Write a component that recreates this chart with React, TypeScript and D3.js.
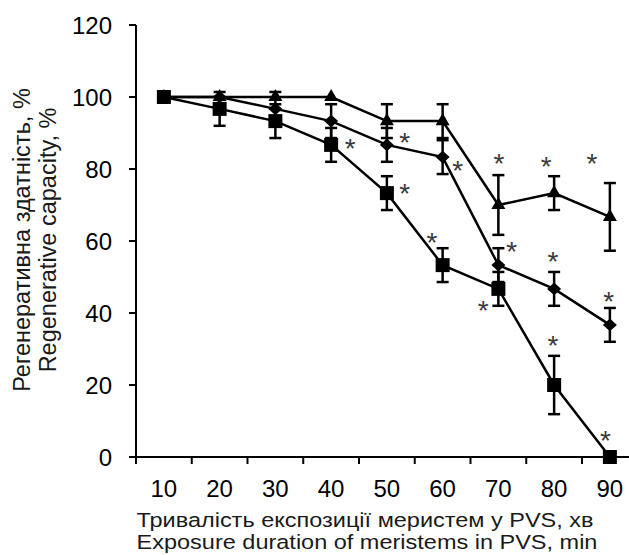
import React from "react";
import * as d3 from "d3";

const categories = [10, 20, 30, 40, 50, 60, 70, 80, 90];
const triangleValues = [100, 100, 100, 100, 93.3, 93.3, 70, 73.3, 66.7];
const triangleErrors = [0, 0, 0, 0, 4.7, 4.7, 8.3, 4.7, 9.4];
const diamondValues = [100, 100, 96.7, 93.3, 86.7, 83.3, 53.3, 46.7, 36.7];
const diamondErrors = [0, 0, 4.7, 4.7, 4.7, 4.7, 4.7, 4.7, 4.7];
const squareValues = [100, 96.7, 93.3, 86.7, 73.3, 53.3, 46.7, 20, 0];
const squareErrors = [0, 4.7, 4.7, 4.7, 4.7, 4.7, 4.7, 8.1, 0];
const yTicks = [0, 20, 40, 60, 80, 100, 120];
// significance marks, positioned in data units (minutes, %)
const asteriskMinutes = [43.4, 53.2, 53.2, 62.7, 70.1, 78.6, 86.8, 58.1, 72.4, 67.3, 79.8, 89.8, 79.8, 89.2];
const asteriskValues = [87.6, 89.2, 75.1, 81.4, 83.2, 82.5, 83.2, 61.4, 58.9, 42.4, 56.1, 45, 32.7, 6.3];
const xTitle = ["Тривалість експозиції меристем у PVS, хв", "Exposure duration of meristems in PVS, min"];
const yTitle = ["Регенеративна здатність, %", "Regenerative capacity, %"];

const W = 629;
const H = 555;
const FONT = "'Liberation Sans', Arial, sans-serif";

const diamondSym = {
  draw(ctx: any, size: number) {
    const w = Math.sqrt(size) / 2;
    const h = w * 0.9;
    ctx.moveTo(0, -h);
    ctx.lineTo(w, 0);
    ctx.lineTo(0, h);
    ctx.lineTo(-w, 0);
    ctx.closePath();
  },
};

export default function App() {
  const x0 = 136;
  const step = 55.75;
  const x = d3
    .scaleBand<number>()
    .domain(categories)
    .range([x0, x0 + step * categories.length])
    .paddingInner(0)
    .paddingOuter(0);
  const cx = (c: number) => (x(c) as number) + x.bandwidth() / 2;
  const xm = d3
    .scaleLinear()
    .domain([categories[0], categories[categories.length - 1]])
    .range([cx(categories[0]), cx(categories[categories.length - 1])]);
  const y = d3.scaleLinear().domain([0, 120]).range([457, 25]);

  const line = d3
    .line<number>()
    .x((_, i) => cx(categories[i]))
    .y((d) => y(d));

  const series = [
    { values: triangleValues, errors: triangleErrors, symbol: d3.symbol(d3.symbolTriangle, 85) },
    { values: diamondValues, errors: diamondErrors, symbol: d3.symbol(diamondSym as any, 196) },
    { values: squareValues, errors: squareErrors, symbol: d3.symbol(d3.symbolSquare, 196) },
  ];

  const boundaries = d3.range(categories.length + 1).map((k) => x0 + k * step);

  return (
    <svg
      width={W}
      height={H}
      style={{ position: "absolute", left: 0, top: 0, background: "#fff" }}
      fontFamily={FONT}
    >
      <rect width={W} height={H} fill="#fff" />
      {/* axes */}
      <line x1={x0} x2={x0} y1={y(120)} y2={y(0)} stroke="#000" strokeWidth={2} />
      <line x1={x0} x2={W} y1={y(0)} y2={y(0)} stroke="#000" strokeWidth={2} />
      {yTicks.map((t) => (
        <g key={t}>
          <line x1={x0 - 7} x2={x0} y1={y(t)} y2={y(t)} stroke="#000" strokeWidth={2} />
          <text x={112} y={y(t)} dy="0.36em" textAnchor="end" fontSize={24} fill="#000">
            {t}
          </text>
        </g>
      ))}
      {boundaries.map((b, i) => (
        <line key={i} x1={b} x2={b} y1={y(0)} y2={y(0) + 7} stroke="#000" strokeWidth={2} />
      ))}
      {categories.map((c) => (
        <text key={c} x={cx(c)} y={497} textAnchor="middle" fontSize={24} fill="#000">
          {c}
        </text>
      ))}
      <g transform="translate(365,527) scale(1,0.88)">
        <text x={0} y={0} textAnchor="middle" fontSize={23.5} fill="#1a1a1a">
          {xTitle[0]}
        </text>
      </g>
      <g transform="translate(367,549) scale(1,0.88)">
        <text x={0} y={0} textAnchor="middle" fontSize={23.5} fill="#1a1a1a">
          {xTitle[1]}
        </text>
      </g>
      <g transform="translate(0,240) rotate(-90)">
        <text x={0} y={30} textAnchor="middle" fontSize={23.5} fill="#1a1a1a">
          {yTitle[0]}
        </text>
        <text x={0} y={56} textAnchor="middle" fontSize={23.5} fill="#1a1a1a">
          {yTitle[1]}
        </text>
      </g>
      {/* lines */}
      {series.map((s, k) => (
        <path key={"l" + k} d={line(s.values) as string} fill="none" stroke="#000" strokeWidth={2.5} />
      ))}
      {/* error bars */}
      {series.map((s, k) =>
        s.values.map((v, i) =>
          s.errors[i] > 0 ? (
            <g key={"e" + k + "-" + i} stroke="#000" strokeWidth={2.5}>
              <line x1={cx(categories[i])} x2={cx(categories[i])} y1={y(v + s.errors[i])} y2={y(v - s.errors[i])} />
              <line x1={cx(categories[i]) - 6} x2={cx(categories[i]) + 6} y1={y(v + s.errors[i])} y2={y(v + s.errors[i])} />
              <line x1={cx(categories[i]) - 6} x2={cx(categories[i]) + 6} y1={y(v - s.errors[i])} y2={y(v - s.errors[i])} />
            </g>
          ) : null
        )
      )}
      {/* markers */}
      {series.map((s, k) =>
        s.values.map((v, i) => (
          <path
            key={"m" + k + "-" + i}
            d={s.symbol() as string}
            transform={`translate(${cx(categories[i])},${y(v)})`}
            fill="#000"
          />
        ))
      )}
      {/* asterisks */}
      {asteriskMinutes.map((m, i) => (
        <text
          key={"a" + i}
          x={xm(m)}
          y={y(asteriskValues[i]) + 16}
          textAnchor="middle"
          fontSize={28}
          fill="#3a3a3a"
        >
          *
        </text>
      ))}
    </svg>
  );
}
